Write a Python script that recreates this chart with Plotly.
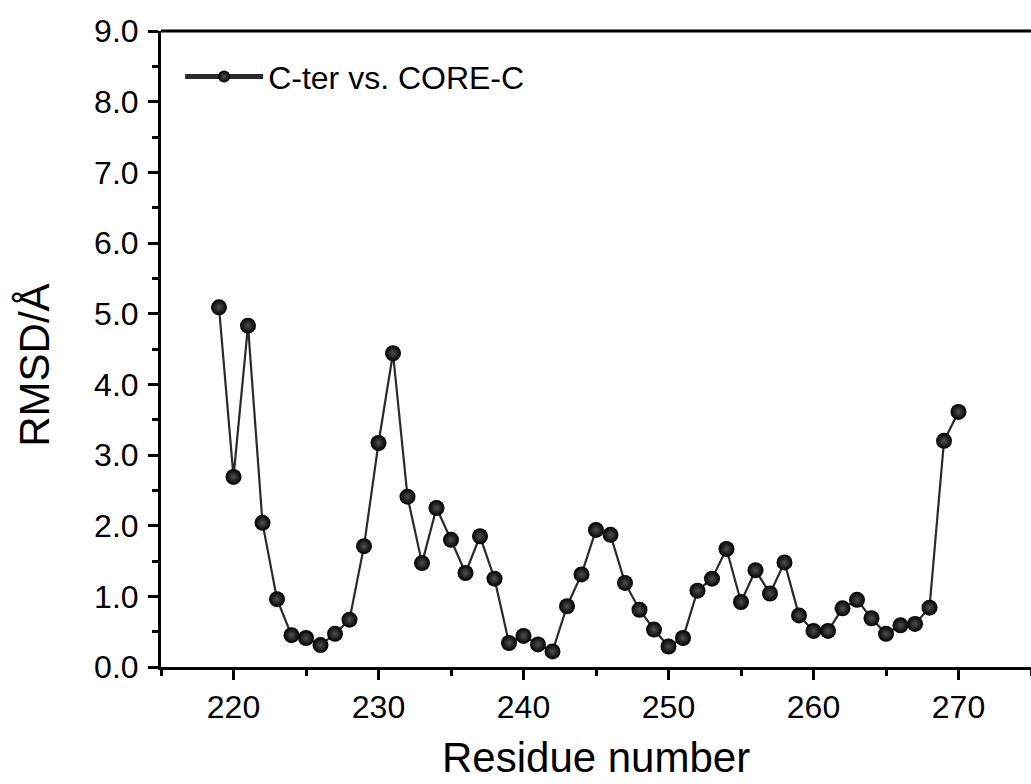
import plotly.graph_objects as go

residues = list(range(219, 271))
rmsd = [5.09, 2.69, 4.83, 2.04, 0.96, 0.45, 0.41, 0.31, 0.47, 0.67,
        1.71, 3.17, 4.44, 2.41, 1.47, 2.25, 1.80, 1.33, 1.85, 1.25,
        0.34, 0.44, 0.32, 0.22, 0.86, 1.31, 1.94, 1.87, 1.19, 0.81,
        0.53, 0.29, 0.41, 1.08, 1.25, 1.67, 0.92, 1.37, 1.04, 1.48,
        0.73, 0.51, 0.51, 0.83, 0.95, 0.69, 0.47, 0.59, 0.61, 0.84,
        3.20, 3.61]
series_name = "C-ter vs. CORE-C"
x_title = "Residue number"
y_title = "RMSD/Å"

FONT = "Arial, Liberation Sans, sans-serif"

fig = go.Figure()
fig.add_trace(go.Scatter(
    x=residues, y=rmsd, mode="lines+markers", name=series_name,
    line=dict(color="#2a2a2a", width=2.2),
    marker=dict(symbol="circle", size=16, color="#000000",
                gradient=dict(type="radial", color="#505050"),
                line=dict(width=0)),
))

axis_common = dict(
    showline=True, linecolor="black", linewidth=3,
    ticks="outside", ticklen=10, tickwidth=2.5, tickcolor="black",
    showgrid=False, zeroline=False,
    tickfont=dict(family=FONT, size=32, color="black"),
)

fig.update_xaxes(range=[215, 275], tick0=220, dtick=10,
                 minor=dict(ticks="outside", ticklen=6, tickwidth=2.5,
                            tickcolor="black", dtick=5, tick0=215, showgrid=False),
                 ticklabelstandoff=0, **axis_common)
fig.update_yaxes(range=[0, 9], tick0=0, dtick=1, tickformat=".1f",
                 minor=dict(ticks="outside", ticklen=6, tickwidth=2.5,
                            tickcolor="black", dtick=0.5, showgrid=False),
                 ticklabelstandoff=3, **axis_common)

fig.add_shape(type="line", xref="paper", yref="paper", x0=0, x1=1, y0=1, y1=1,
              line=dict(color="black", width=3))

fig.add_annotation(text=x_title, xref="paper", yref="paper", x=0.5, y=-0.183,
                   xanchor="center", yanchor="bottom", showarrow=False,
                   font=dict(family=FONT, size=42, color="black"))
fig.add_annotation(text=y_title, xref="paper", yref="paper", x=-0.145, y=0.475,
                   xanchor="center", yanchor="middle", showarrow=False, textangle=-90,
                   font=dict(family=FONT, size=42, color="black"))

fig.update_layout(
    width=1031, height=784,
    margin=dict(l=161, r=0, t=31, b=117),
    plot_bgcolor="white", paper_bgcolor="white",
    showlegend=True,
    legend=dict(x=0.022, y=0.928, xanchor="left", yanchor="middle",
                bgcolor="rgba(0,0,0,0)", itemsizing="constant", itemwidth=78,
                font=dict(family=FONT, size=32, color="black")),
)

fig.write_html("out.html", config={"displayModeBar": False},
               post_script="document.body.style.margin='0';document.body.style.overflow='hidden';")
